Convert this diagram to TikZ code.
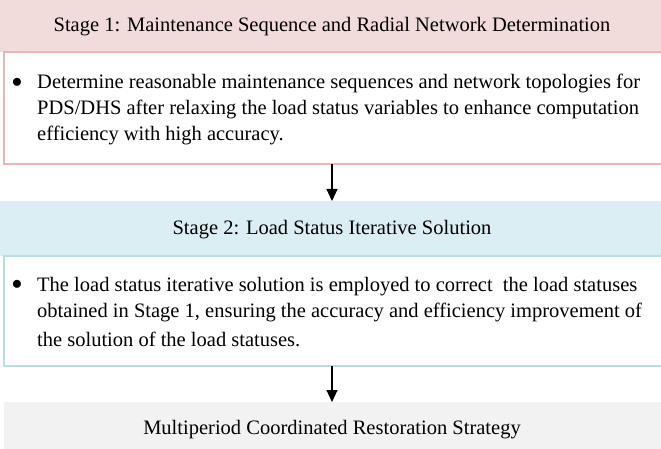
\documentclass[tikz,border=0pt]{standalone}
\usepackage{fontspec}
\setmainfont{Liberation Serif}
\usetikzlibrary{arrows.meta,positioning}
\definecolor{pinkfill}{HTML}{F2DCDB}
\definecolor{pinkline}{HTML}{E6B9B8}
\definecolor{bluefill}{HTML}{DAEEF3}
\definecolor{blueline}{HTML}{B7DDE8}
\definecolor{grayfill}{HTML}{F2F2F2}
\tikzset{
  hdr/.style={anchor=north west, inner sep=0pt, outer sep=0pt, draw=none},
  bodybox/.style={anchor=north west, inner sep=0pt, outer sep=0pt, line width=1.5pt, fill=white},
  txt/.style={inner sep=0pt, font=\fontsize{20.5}{25}\selectfont},
  bline/.style={txt, anchor=base west},
  flow/.style={line width=1.2pt, -{Triangle[width=11pt,length=12pt]}}
}
\begin{document}
\begin{tikzpicture}[x=1pt,y=-1pt]
\useasboundingbox (0,0) rectangle (661,449);
\clip (0,0) rectangle (661,449);
% Stage 1
\node[hdr, fill=pinkfill, minimum width=661pt, minimum height=52pt] (h1) at (0,0) {};
\node[bodybox, draw=pinkline, minimum width=666pt, minimum height=112pt] (b1) at (4,52) {};
\node[txt] (t1) at (332,27) {Stage 1: Maintenance Sequence and Radial Network Determination};
\node[txt, anchor=center] (d1) at (17,83) {$\bullet$};
\node[bline] (l11) at (37,89) {Determine reasonable maintenance sequences and network topologies for};
\node[bline] (l12) at (37,115) {PDS/DHS after relaxing the load status variables to enhance computation};
\node[bline] (l13) at (37,141) {efficiency with high accuracy.};
% Stage 2
\node[hdr, fill=bluefill, minimum width=661pt, minimum height=55pt] (h2) at (0,201) {};
\node[bodybox, draw=blueline, minimum width=666pt, minimum height=110pt] (b2) at (4,256) {};
\node[txt] (t2) at (332,230) {Stage 2: Load Status Iterative Solution};
\node[txt, anchor=center] (d2) at (17,285) {$\bullet$};
\node[bline] (l21) at (37,291) {The load status iterative solution is employed to correct\ \ the load statuses};
\node[bline] (l22) at (37,317) {obtained in Stage 1, ensuring the accuracy and efficiency improvement of};
\node[bline] (l23) at (37,346) {the solution of the load statuses.};
% Result
\node[hdr, fill=grayfill, minimum width=666pt, minimum height=60pt] (r) at (4,402) {};
\node[txt] (t3) at (332,430) {Multiperiod Coordinated Restoration Strategy};
% arrows
\coordinate (a1) at (332,164);
\coordinate (a2) at (332,366);
\draw[flow] (a1) -- (a1 |- h2.north);
\draw[flow] (a2) -- (a2 |- r.north);
\end{tikzpicture}
\end{document}
